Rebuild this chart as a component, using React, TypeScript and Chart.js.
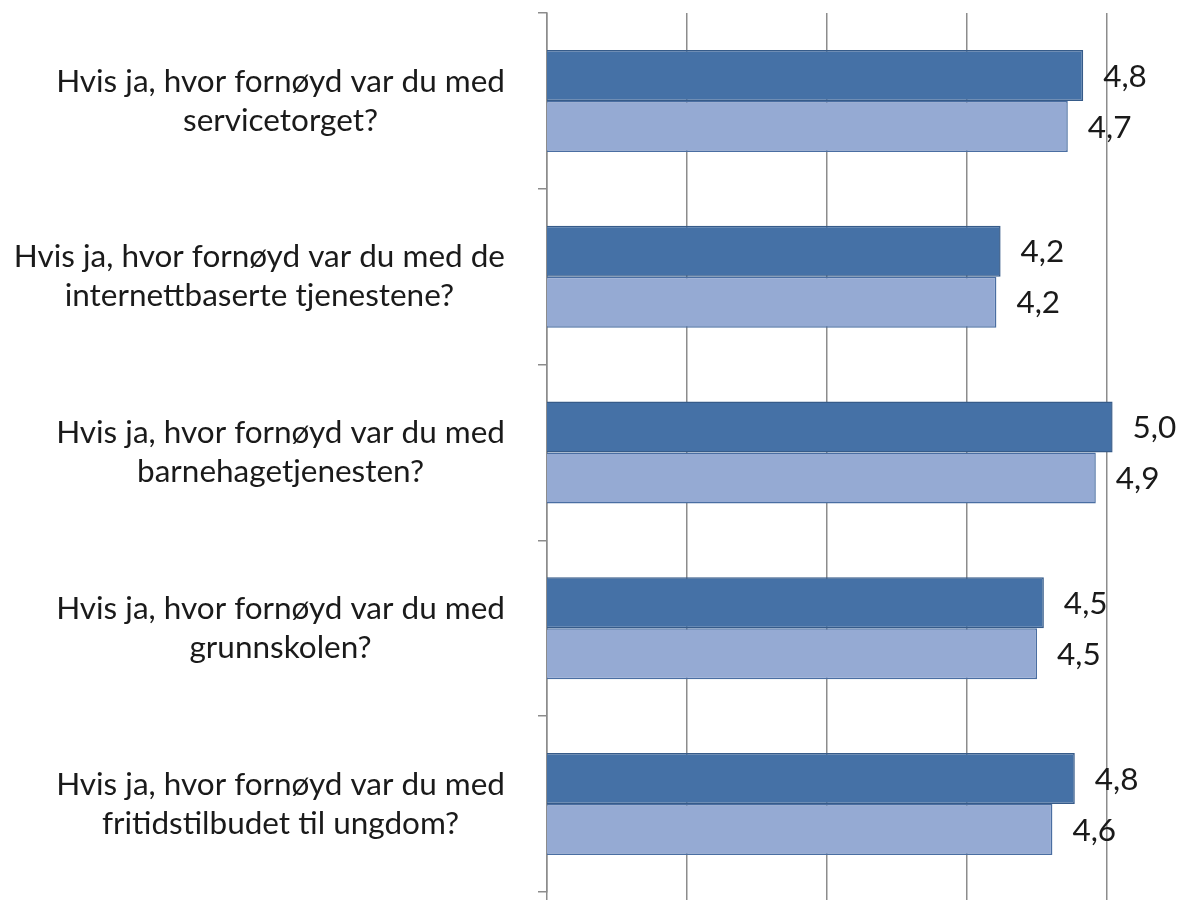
import React, { useEffect, useRef } from "react";
import { Chart, registerables } from "chart.js";

Chart.register(...registerables);

const categories: string[][] = [
  ["Hvis ja, hvor fornøyd var du med", "servicetorget?"],
  ["Hvis ja, hvor fornøyd var du med de", "internettbaserte tjenestene?"],
  ["Hvis ja, hvor fornøyd var du med", "barnehagetjenesten?"],
  ["Hvis ja, hvor fornøyd var du med", "grunnskolen?"],
  ["Hvis ja, hvor fornøyd var du med", "fritidstilbudet til ungdom?"],
];

const seriesA: number[] = [4.83, 4.24, 5.04, 4.549, 4.77];
const seriesB: number[] = [4.72, 4.21, 4.92, 4.5, 4.61];

const xTicks: number[] = [1, 2, 3, 4, 5];

const FONT = "Lato, 'Open Sans', sans-serif";
const FONT_SIZE = 31.5;

const fmt = (v: number) => v.toFixed(1).replace(".", ",");

const labelsPlugin = {
  id: "customLabels",
  afterDatasetsDraw(chart: any) {
    const ctx = chart.ctx;
    const yScale = chart.scales.y;
    ctx.save();
    ctx.font = `${FONT_SIZE}px ${FONT}`;
    ctx.fillStyle = "#1a1a1a";
    const rightEdge = yScale.right - 42;
    const lineH = 39;
    categories.forEach((lines, i) => {
      const cy = yScale.getPixelForValue(i);
      const widest = Math.max(...lines.map((l) => ctx.measureText(l).width));
      const cx = rightEdge - widest / 2;
      ctx.textAlign = "center";
      ctx.textBaseline = "middle";
      const n = lines.length;
      lines.forEach((l, j) => {
        ctx.fillText(l, cx, cy + (j - (n - 1) / 2) * lineH);
      });
    });
    chart.data.datasets.forEach((ds: any, di: number) => {
      const meta = chart.getDatasetMeta(di);
      meta.data.forEach((bar: any, i: number) => {
        const v = ds.data[i];
        ctx.textAlign = "left";
        ctx.textBaseline = "middle";
        ctx.fillText(fmt(v), bar.x + 20, bar.y + 1);
      });
    });
    ctx.restore();
  },
};

export default function App() {
  const ref = useRef<HTMLCanvasElement>(null);
  useEffect(() => {
    if (!ref.current) return;
    const chart = new Chart(ref.current, {
      type: "bar",
      data: {
        labels: categories.map((c) => c.join(" ")),
        datasets: [
          {
            label: "A",
            data: seriesA,
            backgroundColor: "#4571A6",
            borderColor: "#365B89",
            borderWidth: 1.5,
            barPercentage: 1,
            categoryPercentage: 0.58,
          },
          {
            label: "B",
            data: seriesB,
            backgroundColor: "#95AAD3",
            borderColor: "#4A6EA2",
            borderWidth: 1.5,
            barPercentage: 1,
            categoryPercentage: 0.58,
          },
        ],
      },
      options: {
        indexAxis: "y",
        responsive: false,
        animation: false,
        layout: { padding: { top: 13, right: 1, left: 0, bottom: 0 } },
        plugins: {
          legend: { display: false },
          tooltip: { enabled: false },
        },
        scales: {
          x: {
            min: 1,
            max: 5.5,
            afterBuildTicks: (s: any) => {
              s.ticks = xTicks.map((v) => ({ value: v }));
            },
            ticks: { display: false },
            border: { display: false },
            grid: {
              color: "#8c8c8c",
              lineWidth: 1.5,
              drawTicks: true,
              tickLength: 8,
            },
          },
          y: {
            afterFit: (s: any) => {
              s.width = 547;
            },
            ticks: { display: false },
            border: { display: true, color: "#8c8c8c", width: 1.5 },
            grid: {
              offset: true,
              drawOnChartArea: false,
              drawTicks: true,
              tickLength: 9,
              color: "#8c8c8c",
              lineWidth: 1.5,
            },
          },
        },
      },
      plugins: [labelsPlugin],
    });
    return () => chart.destroy();
  }, []);
  return (
    <div style={{ position: "absolute", left: 0, top: 0, width: 1178, height: 900, background: "#fff" }}>
      <canvas ref={ref} width={1178} height={900} />
    </div>
  );
}
